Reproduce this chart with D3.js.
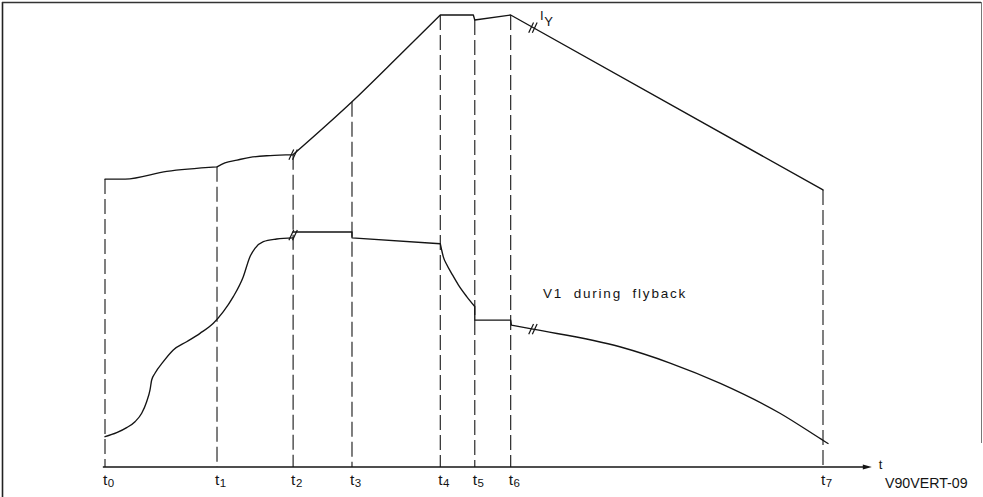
<!DOCTYPE html>
<html>
<head>
<meta charset="utf-8">
<script src="https://cdn.jsdelivr.net/npm/d3@7"></script>
<style>
  html, body { margin: 0; padding: 0; background: #fff; }
  svg { display: block; }
</style>
</head>
<body>
<svg id="chart" width="983" height="497"></svg>
<script>
// Vertical deflection timing: yoke current I_Y and voltage V1 around flyback (t0 .. t7)
const tickLabels = ["t0", "t1", "t2", "t3", "t4", "t5", "t6", "t7"];
const tickTimes  = [0, 15.6, 26.2, 34.4, 46.7, 51.5, 56.5, 100];

// Yoke current, one array per stretch between kinks: [time, level]
const iySegments = [
  [[0, 63.7], [2.8, 63.7], [8.6, 65.4], [15.6, 66.4]],
  [[15.6, 66.4], [16.7, 67.3], [18.4, 67.9], [20.2, 68.5], [23.0, 68.9], [26.2, 69.1]],
  [[26.2, 69.1], [34.4, 80.8], [41.1, 91.2], [46.7, 100]],
  [[46.7, 100], [51.3, 100]],
  [[51.3, 100], [51.5, 98.9]],
  [[51.5, 98.9], [56.5, 100]],
  [[56.5, 100], [100, 61.3]]
];

// Voltage V1, same layout
const v1Segments = [
  [[0, 6.7], [1.63, 7.59], [3.02, 8.70], [4.18, 10.02], [5.11, 11.88], [5.80, 14.45],
   [6.27, 17.04], [6.50, 19.25], [6.96, 20.73], [8.12, 23.30], [9.51, 25.88], [11.37, 27.72],
   [13.23, 29.57], [15.09, 31.79], [16.48, 34.36], [17.87, 37.68], [19.26, 42.10],
   [20.19, 46.53], [20.89, 48.38], [22.05, 49.85], [23.91, 50.44], [26.2, 50.7]],
  [[26.2, 52.0], [34.4, 52.0]],
  [[34.4, 52.0], [34.4, 50.7]],
  [[34.4, 50.7], [46.7, 49.4]],
  [[46.7, 49.4], [46.89, 48.0], [47.12, 46.5], [47.59, 44.8], [48.29, 42.8], [49.21, 40.3],
   [50.38, 37.7], [51.5, 35.5]],
  [[51.5, 35.5], [51.5, 32.5]],
  [[51.5, 32.5], [56.5, 32.5]],
  [[56.5, 32.5], [56.6, 31.4]],
  [[56.6, 31.4], [59.6, 30.5], [71.7, 26.6], [78.7, 23.0], [85.7, 18.5], [94.0, 11.9],
   [99.8, 6.1], [100.7, 5.2]]
];

// Scale-break marks "//" on the traces: [time, level]
const breakMarks = [[26.2, 69.1], [59.6, 97.2], [26.2, 51.3], [59.6, 30.5]];

const currentLabel = ["I", "Y"];
const voltageLabel = "V1 during flyback";
const axisLabel = "t";
const figureId = "V90VERT-09";

const svg = d3.select("#chart");
const ink = "#141414";
const plotFont = "'Liberation Sans', Arial, sans-serif";

const x = d3.scaleLinear().domain([0, 100]).range([105, 823]);
const y = d3.scaleLinear().domain([0, 100]).range([467, 15]);

// page frame
const frame = svg.append("g").attr("fill", "none");
frame.append("line").attr("x1", 2.5).attr("y1", 2).attr("x2", 2.5).attr("y2", 497)
  .attr("stroke", "#222").attr("stroke-width", 1.6);
frame.append("line").attr("x1", 2).attr("y1", 2.5).attr("x2", 981).attr("y2", 2.5)
  .attr("stroke", "#333").attr("stroke-width", 1.4);
frame.append("line").attr("x1", 981.5).attr("y1", 2).attr("x2", 981.5).attr("y2", 443)
  .attr("stroke", "#777").attr("stroke-width", 1);

// level of a trace at a given time (highest branch where it steps)
function levelAt(segments, t) {
  let best = -Infinity;
  segments.forEach(seg => {
    for (let i = 0; i < seg.length - 1; i++) {
      const [x0, y0] = seg[i], [x1, y1] = seg[i + 1];
      if (t >= Math.min(x0, x1) - 1e-9 && t <= Math.max(x0, x1) + 1e-9) {
        const v = x1 === x0 ? Math.max(y0, y1) : y0 + (y1 - y0) * (t - x0) / (x1 - x0);
        best = Math.max(best, v);
      }
    }
  });
  return best;
}

// dashed drop lines from the current trace to the time axis
svg.append("g")
  .selectAll("line")
  .data(tickTimes)
  .join("line")
  .attr("x1", d => x(d)).attr("x2", d => x(d))
  .attr("y1", d => y(levelAt(iySegments, d)))
  .attr("y2", y(0))
  .attr("stroke", "#2a2a2a")
  .attr("stroke-width", 1.2)
  .attr("stroke-dasharray", "15,5");

// time axis with arrow
const axisEnd = 106.8;
const axis = svg.append("g");
axis.append("line")
  .attr("x1", x(-0.3)).attr("x2", x(axisEnd) - 6)
  .attr("y1", y(0)).attr("y2", y(0))
  .attr("stroke", ink).attr("stroke-width", 1.3);
axis.append("path")
  .attr("d", `M${x(axisEnd)},${y(0)} L${x(axisEnd) - 9},${y(0) - 2.6} L${x(axisEnd) - 9},${y(0) + 2.6} Z`)
  .attr("fill", ink);
axis.append("text")
  .attr("x", x(axisEnd) + 7).attr("y", y(0) + 2)
  .attr("font-family", plotFont).attr("font-size", 13).attr("fill", ink)
  .text(axisLabel);

// tick labels t0..t7 with subscript index
const tl = axis.append("g")
  .selectAll("text")
  .data(tickLabels)
  .join("text")
  .attr("x", (d, i) => x(tickTimes[i]) - 2)
  .attr("y", y(0) + 18)
  .attr("font-family", plotFont)
  .attr("fill", ink);
tl.append("tspan").attr("font-size", 15.5).text(d => d.slice(0, 1));
tl.append("tspan").attr("font-size", 11.5).attr("dx", 0.5).attr("dy", 2).text(d => d.slice(1));

// traces
const line = d3.line()
  .x(d => x(d[0]))
  .y(d => y(d[1]))
  .curve(d3.curveMonotoneX);

[iySegments, v1Segments].forEach(segs => {
  svg.append("path")
    .attr("d", segs.map(s => line(s)).join(""))
    .attr("fill", "none")
    .attr("stroke", ink)
    .attr("stroke-width", 1.35)
    .attr("stroke-linejoin", "round")
    .attr("stroke-linecap", "round");
});

// "//" break marks
const bm = svg.append("g").attr("stroke", ink).attr("stroke-width", 1.2);
breakMarks.forEach(([t, v]) => {
  const cx = x(t), cy = y(v);
  [-1.8, 1.8].forEach(off => {
    bm.append("line")
      .attr("x1", cx + off - 2.4).attr("y1", cy + 5.2)
      .attr("x2", cx + off + 2.4).attr("y2", cy - 5.2);
  });
});

// trace labels
const iyText = svg.append("text")
  .attr("x", x(60.6)).attr("y", y(98.9))
  .attr("font-family", plotFont).attr("fill", ink);
iyText.append("tspan").attr("font-size", 13).text(currentLabel[0]);
iyText.append("tspan").attr("font-size", 13).attr("dx", 0.5).attr("dy", 6).text(currentLabel[1]);

svg.append("text")
  .attr("x", x(61.0)).attr("y", y(37.4))
  .attr("font-family", plotFont).attr("font-size", 13.5)
  .attr("letter-spacing", 1.8).attr("word-spacing", 5)
  .attr("fill", ink)
  .text(voltageLabel);

svg.append("text")
  .attr("x", 885).attr("y", 488)
  .attr("font-family", plotFont).attr("font-size", 14.2)
  .attr("fill", ink)
  .text(figureId);
</script>
</body>
</html>
